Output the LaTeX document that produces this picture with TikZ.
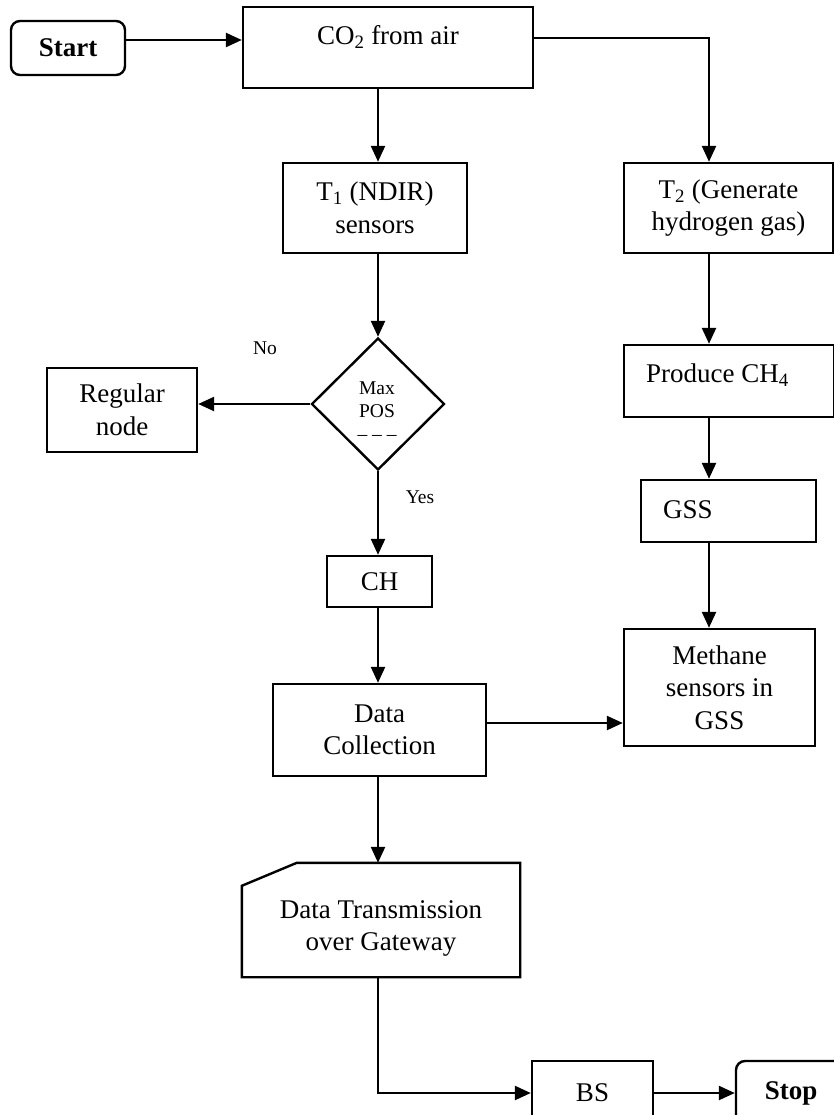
\documentclass[tikz,border=0pt]{standalone}
\usepackage{fontspec}
\setmainfont{Liberation Serif}
\usetikzlibrary{arrows.meta,shapes.geometric}
\newcommand\mainfs{\fontsize{27}{32.5}\selectfont}
\newcommand\smallfs{\fontsize{19.5}{23}\selectfont}
\begin{document}
\begin{tikzpicture}[x=1pt,y=-1pt,line width=2.4pt,
  box/.style={draw,rectangle,inner sep=0pt,align=center,font=\mainfs},
  rbox/.style={box,rounded corners=9pt},
  sz/.style 2 args={minimum width=#1pt,minimum height=#2pt},
  txt/.style={inner sep=0pt,align=center,font=\mainfs},
  lbl/.style={inner sep=0pt,font=\smallfs},
  arr/.style={-{Triangle[length=16pt,width=14pt]}}]
\useasboundingbox (0,0) rectangle (834,1115);
% nodes
\node[rbox,sz={114}{54}] (start) at (68,48) {\textbf{Start}};
\node[box,sz={290}{81}] (co2) at (388,47.5) {};
\node[txt] (co2t) at (388,37) {CO\textsubscript{2} from air};
\node[box,sz={184}{90}] (t1) at (375,208) {T\textsubscript{1} (NDIR)\\sensors};
\node[box,sz={209}{90}] (t2) at (728.5,208) {T\textsubscript{2} (Generate\\hydrogen gas)};
\node[draw,diamond,inner sep=0pt,sz={133}{132}] (dia) at (378,404) {};
\node[lbl,align=center] (diat) at (377,411) {Max\\POS\\-- -- --};
\node[box,sz={150}{84}] (reg) at (122,410) {Regular\\node};
\node[lbl] (no) at (265,348) {No};
\node[lbl] (yes) at (420,497) {Yes};
\node[box,sz={105}{51}] (ch) at (379.5,581.5) {CH};
\node[box,sz={213}{92}] (dc) at (379.5,730) {Data\\Collection};
\node[inner sep=0pt,sz={276}{112}] (dt) at (381,920) {};
\draw[line join=miter] (dt.south west) -- ([yshift=-23pt]dt.north west) -- ([xshift=55pt]dt.north west) -- (dt.north east) -- (dt.south east) -- cycle;
\node[txt] (dtt) at (381,928.5) {Data Transmission\\over Gateway};
\node[box,sz={210}{72}] (prod) at (729,381) {};
\node[txt,anchor=west] (prodt) at (645,375) {Produce CH\textsubscript{4}};
\node[box,sz={175}{62}] (gss) at (728.5,511) {};
\node[txt,anchor=west] (gsst) at (662,510) {GSS};
\node[box,sz={191}{117}] (meth) at (719.5,687.5) {Methane\\sensors in\\GSS};
\node[box,sz={121}{64}] (bs) at (592.5,1093) {BS};
\node[rbox,sz={110}{64}] (stop) at (791,1093) {\textbf{Stop}};
\coordinate (rc) at (709,0);
% connectors
\draw[arr] ([yshift=8pt]start.east) -- ([yshift=8pt]start.east -| co2.west);
\draw[arr] (co2.south -| dia.north) -- (t1.north -| dia.north);
\draw[arr] ([yshift=9.5pt]co2.east) -| (t2.north -| rc);
\draw[arr] (t1.south -| dia.north) -- (dia.north);
\draw[arr] (dia.west) -- (dia.west -| reg.east);
\draw[arr] (dia.south) -- (ch.north -| dia.south);
\draw[arr] (ch.south -| dia.south) -- (dc.north -| dia.south);
\draw[arr] ([yshift=7pt]dc.east) -- ([yshift=7pt]dc.east -| meth.west);
\draw[arr] (dc.south -| dia.south) -- (dt.north -| dia.south);
\draw[arr] (dt.south -| dia.south) |- (bs.west);
\draw[arr] (bs.east) -- (stop.west);
\draw[arr] (t2.south -| rc) -- (prod.north -| rc);
\draw[arr] (prod.south -| rc) -- (gss.north -| rc);
\draw[arr] (gss.south -| rc) -- (meth.north -| rc);
\end{tikzpicture}
\end{document}
